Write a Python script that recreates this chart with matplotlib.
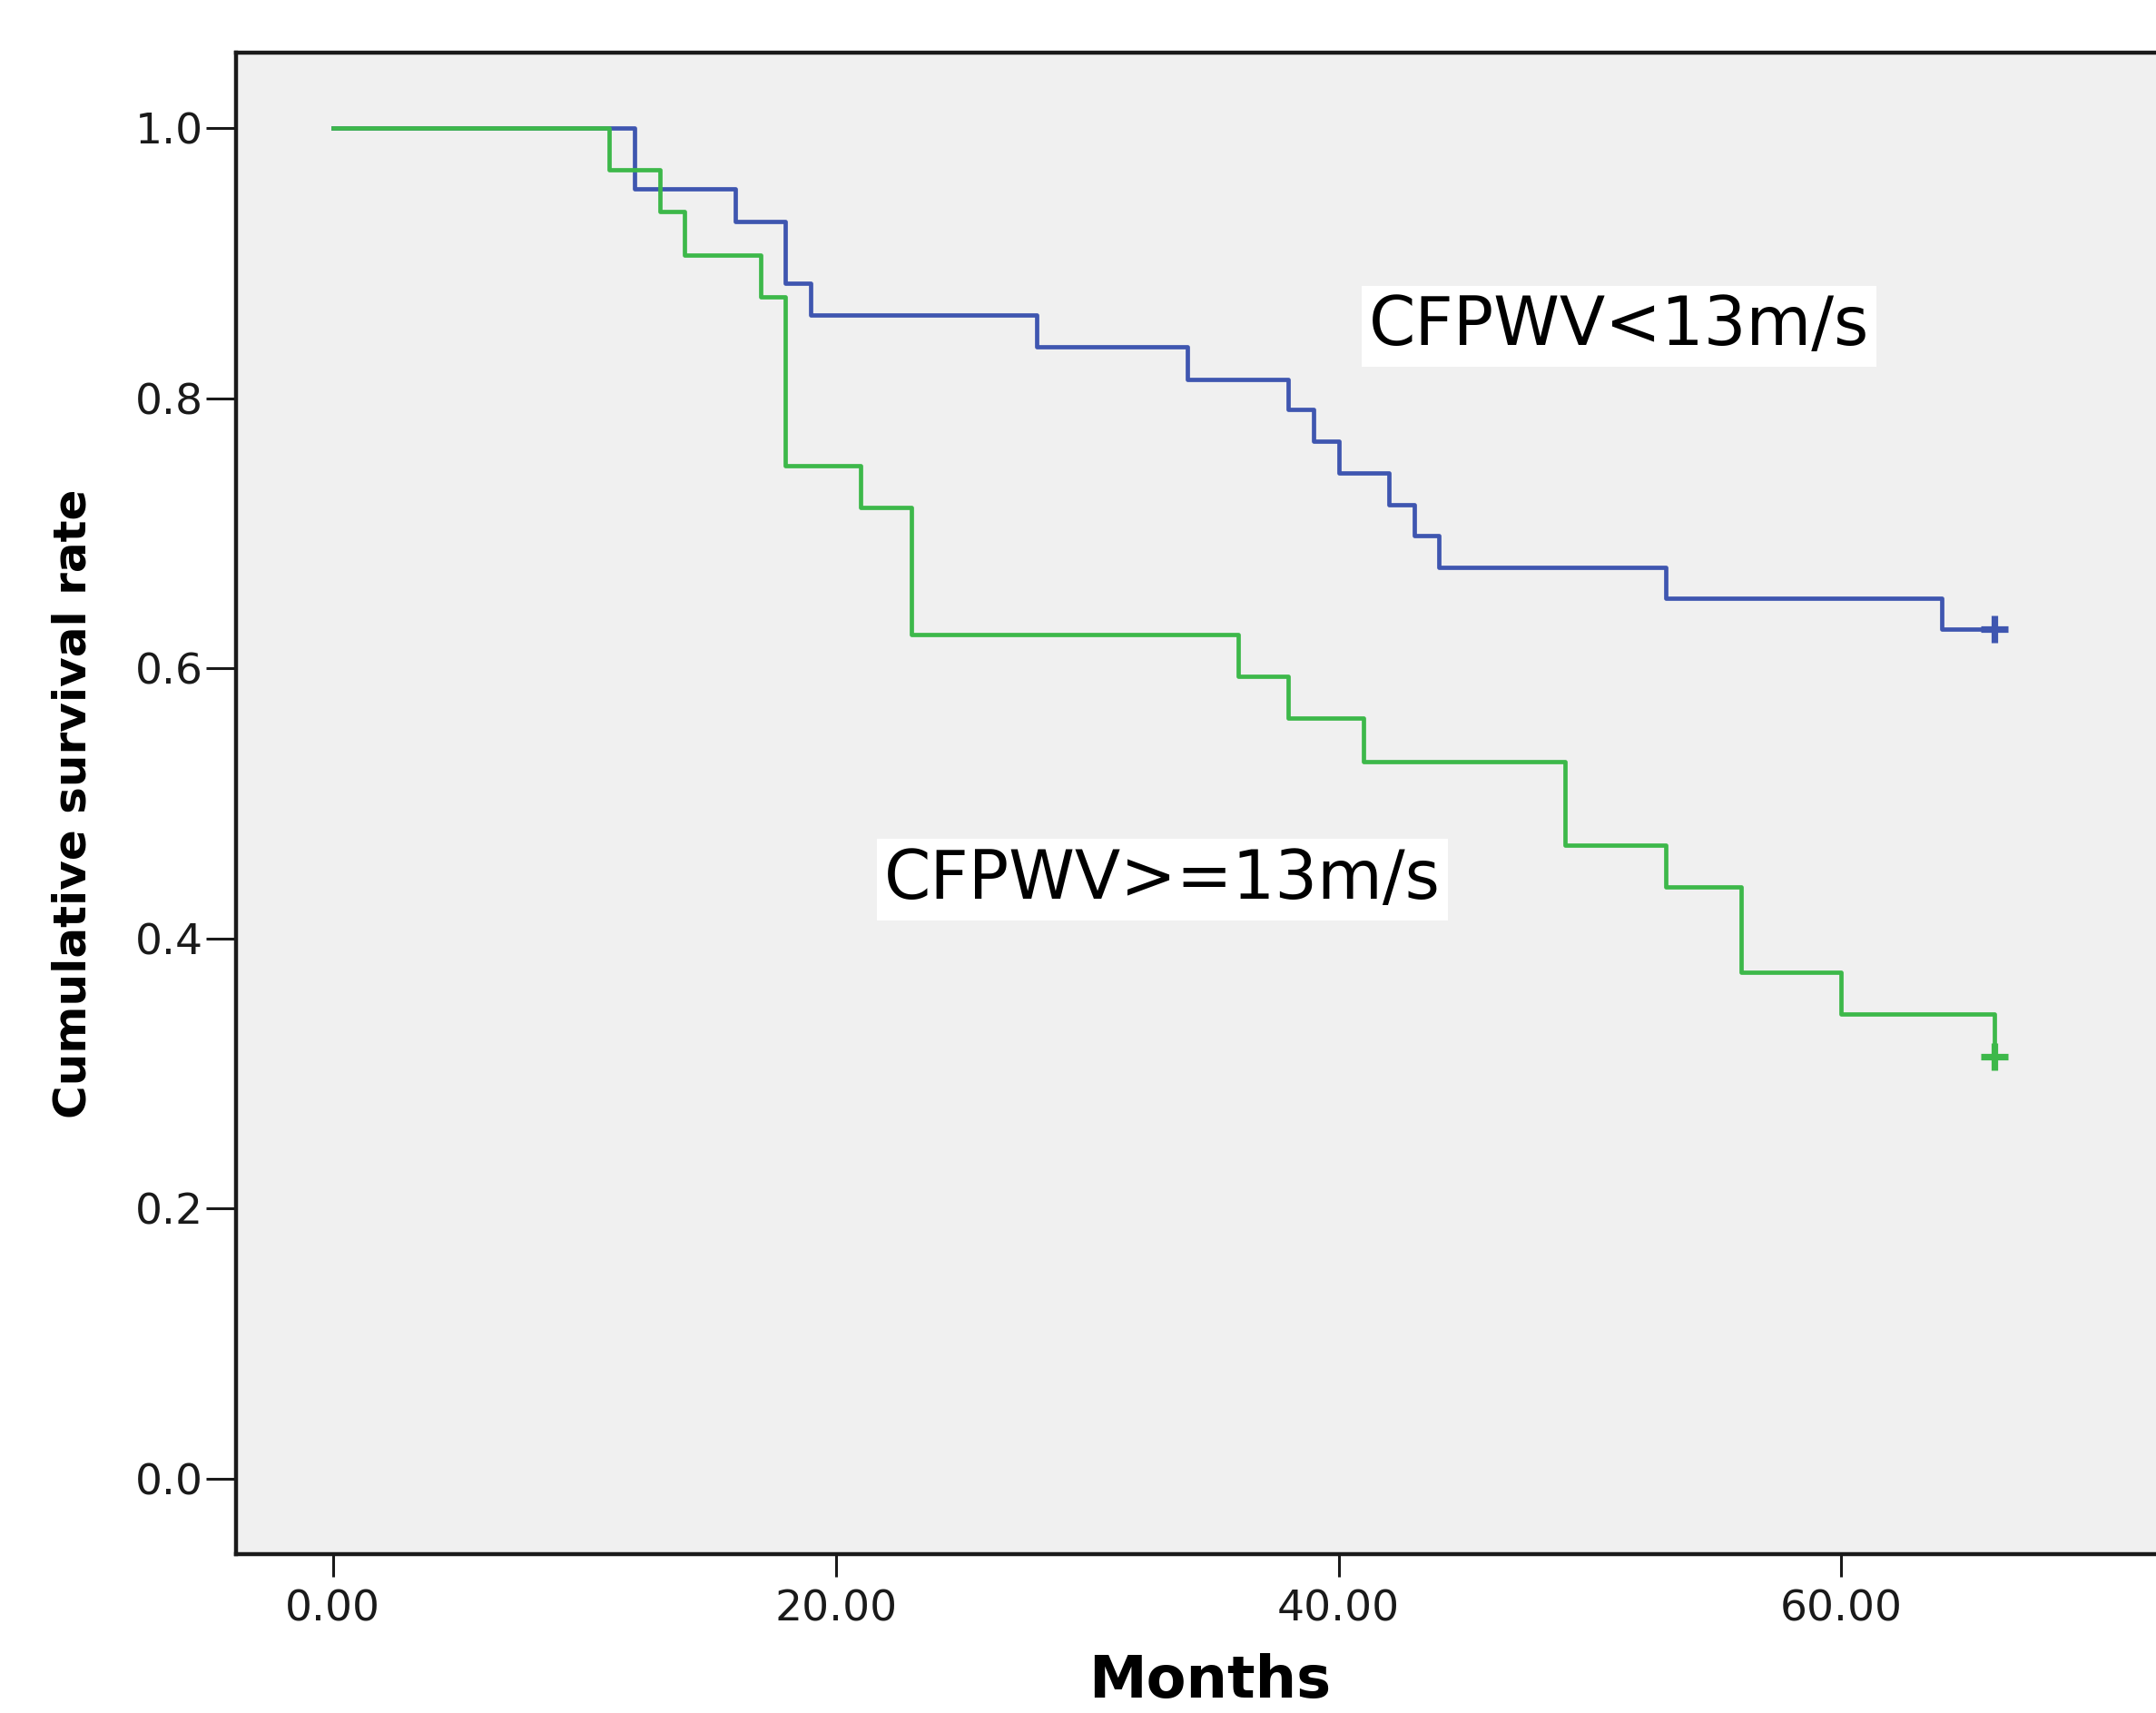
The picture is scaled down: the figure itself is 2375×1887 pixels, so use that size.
import numpy as np
import matplotlib
matplotlib.use("Agg")
import matplotlib.pyplot as plt

# Kaplan-Meier steps (months, survival)
low_times = [0, 12, 16, 18, 19, 28, 34, 38, 39, 40, 42, 43, 44, 53, 64, 66.07]
low_surv = [1.0, 0.955, 0.931, 0.885, 0.862, 0.838, 0.814, 0.792, 0.768, 0.745,
            0.721, 0.698, 0.675, 0.652, 0.629, 0.629]
high_times = [0, 11, 13, 14, 17, 18, 21, 23, 36, 38, 41, 49, 53, 56, 60, 66.07]
high_surv = [1.0, 0.969, 0.938, 0.906, 0.875, 0.750, 0.719, 0.625, 0.594, 0.563,
             0.531, 0.469, 0.438, 0.375, 0.344, 0.3125]
low_censor = [66.07, 0.629]
high_censor = [66.07, 0.3125]

low_label = "CFPWV<13m/s"
high_label = "CFPWV>=13m/s"
xticks = [0, 20, 40, 60]
xtick_labels = ["0.00", "20.00", "40.00", "60.00"]
yticks = [0.0, 0.2, 0.4, 0.6, 0.8, 1.0]

blue = "#3F56B0"
green = "#3DB84A"

fig = plt.figure(figsize=(11.875, 9.435), dpi=200)
ax = fig.add_axes([0.1095, 0.0927, 0.9032, 0.8766])
ax.set_facecolor("#F0F0F0")

ax.plot(low_times, low_surv, drawstyle="steps-post", color=blue, lw=1.7)
ax.plot(high_times, high_surv, drawstyle="steps-post", color=green, lw=1.7)
ax.plot([low_censor[0]], [low_censor[1]], marker="+", color=blue, ms=11, mew=2.6)
ax.plot([high_censor[0]], [high_censor[1]], marker="+", color=green, ms=11, mew=2.6)

ax.text(41.2, 0.853, low_label, fontsize=26.5, ha="left", va="center",
        bbox=dict(facecolor="white", edgecolor="none", pad=3))
ax.text(21.94, 0.4435, high_label, fontsize=26.5, ha="left", va="center",
        bbox=dict(facecolor="white", edgecolor="none", pad=3))

ax.set_xlim(-3.85, 73.6)
ax.set_ylim(-0.056, 1.056)
ax.set_xticks(xticks)
ax.set_xticklabels(xtick_labels)
ax.set_yticks(yticks)
ax.set_yticklabels(["%.1f" % v for v in yticks])

for side in ["left", "bottom", "top"]:
	ax.spines[side].set_linewidth(1.6)
	ax.spines[side].set_color("#1a1a1a")
ax.spines["right"].set_visible(False)

ax.tick_params(axis="y", length=12, width=1.1, pad=1, labelsize=17, colors="#1a1a1a")
ax.tick_params(axis="x", length=9, width=1.1, pad=5, labelsize=17, colors="#1a1a1a")

ax.set_xlabel("Months", fontsize=23, fontweight="bold", labelpad=9)
ax.set_ylabel("Cumulative survival rate", fontsize=18, fontweight="bold", labelpad=16)

fig.savefig("out.png", dpi=200)
